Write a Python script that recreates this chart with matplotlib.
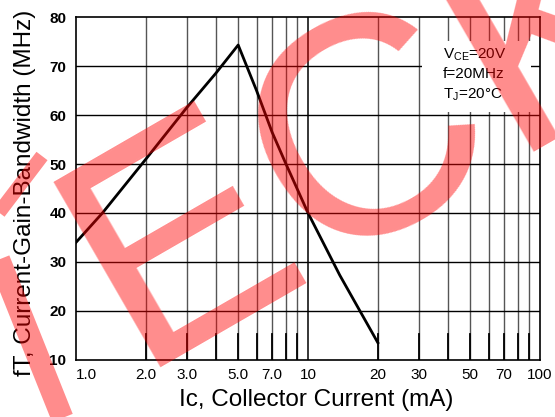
import numpy as np
import matplotlib
matplotlib.use('Agg')
import matplotlib.pyplot as plt
from matplotlib.patches import Rectangle
from matplotlib.lines import Line2D

# curve
ic = [1.0, 1.3, 2.0, 3.0, 4.0, 5.0, 6.0, 7.0, 8.0, 10.0, 13.7, 20.0]
ft = [34.0, 40.0, 51.0, 61.5, 68.5, 74.3, 65.0, 56.5, 50.2, 40.0, 27.3, 13.5]

xticks = [1, 2, 3, 5, 7, 10, 20, 30, 50, 70, 100]
xlabels = ['1.0', '2.0', '3.0', '5.0', '7.0', '10', '20', '30', '50', '70', '100']
xgrid = [2, 3, 4, 5, 6, 7, 8, 9, 20, 30, 40, 50, 60, 70, 80, 90]
yticks = [10, 20, 30, 40, 50, 60, 70, 80]

conditions = [r'V$_{\mathregular{CE}}$=20V', 'f=20MHz', r'T$_{\mathregular{J}}$=20°C']


def px(fig, xs, ys):
    # image pixels (top-left origin) -> figure fraction
    w, h = fig.get_size_inches() * fig.dpi
    return [x / w for x in xs], [(h - y) / h for y in ys]


def main():
    plt.rcParams['font.family'] = ['Liberation Sans', 'DejaVu Sans']
    plt.rcParams['mathtext.fontset'] = 'custom'
    plt.rcParams['mathtext.rm'] = 'Liberation Sans'

    fig = plt.figure(figsize=(5.55, 4.17), dpi=100)
    ax = fig.add_axes([0.137, 0.137, 0.836, 0.822])
    ax.set_xscale('log')
    ax.set_xlim(1, 100)
    ax.set_ylim(10, 80)

    # grid
    for x in xgrid:
        ax.axvline(x, color='#555555', lw=1.0, zorder=1)
        ax.plot([x, x], [10, 15.2], color='black', lw=1.3, zorder=1)
    ax.axvline(10, color='black', lw=1.1, zorder=1)
    for y in yticks[1:-1]:
        ax.axhline(y, color='black', lw=1.0, zorder=1)

    # white patch behind the test conditions
    ax.add_patch(Rectangle((31, 60.6), 60, 14.5, facecolor='white',
                           edgecolor='none', zorder=2))
    for i, s in enumerate(conditions):
        ax.text(443 / 555, (417 - 58 - 20 * i) / 417, s, transform=fig.transFigure,
                fontsize=11, ha='left', va='baseline', zorder=3)

    ax.plot(ic, ft, color='black', lw=2.0, zorder=4)

    ax.set_xticks(xticks)
    ax.set_xticklabels(xlabels, fontsize=11)
    ax.xaxis.set_minor_locator(matplotlib.ticker.NullLocator())
    ax.set_yticks(yticks)
    ax.set_yticklabels([str(y) for y in yticks], fontsize=11, fontweight='bold')
    ax.tick_params(axis='x', length=0, pad=6)
    ax.tick_params(axis='y', length=0, pad=7)
    ax.get_xticklabels()[0].set_horizontalalignment('left')
    for s in ax.spines.values():
        s.set_linewidth(1.2)

    fig.text(316 / 555, (417 - 400) / 417, 'Ic, Collector Current (mA)',
             fontsize=17.5, ha='center', va='center')
    fig.text(25 / 555, (417 - 193) / 417, 'fT, Current-Gain-Bandwidth (MHz)',
             fontsize=17.5, ha='center', va='center', rotation=90)

    # red watermark over everything
    fig.text(135.4 / 555, (417 - 367.3) / 417, 'ECK', fontsize=224, color='red',
             alpha=0.45, rotation=30, rotation_mode='anchor',
             ha='left', va='baseline', zorder=10)
    # stray watermark strokes cut by the left edge
    for xs, ys, w in [([-10, 70], [237, 437], 16), ([-12, 42], [227, 156], 10)]:
        fx, fy = px(fig, xs, ys)
        fig.add_artist(Line2D(fx, fy, color='red', alpha=0.45, lw=w,
                              solid_capstyle='butt', zorder=10))

    fig.savefig('out.png', dpi=100)


if __name__ == "__main__":
    main()
